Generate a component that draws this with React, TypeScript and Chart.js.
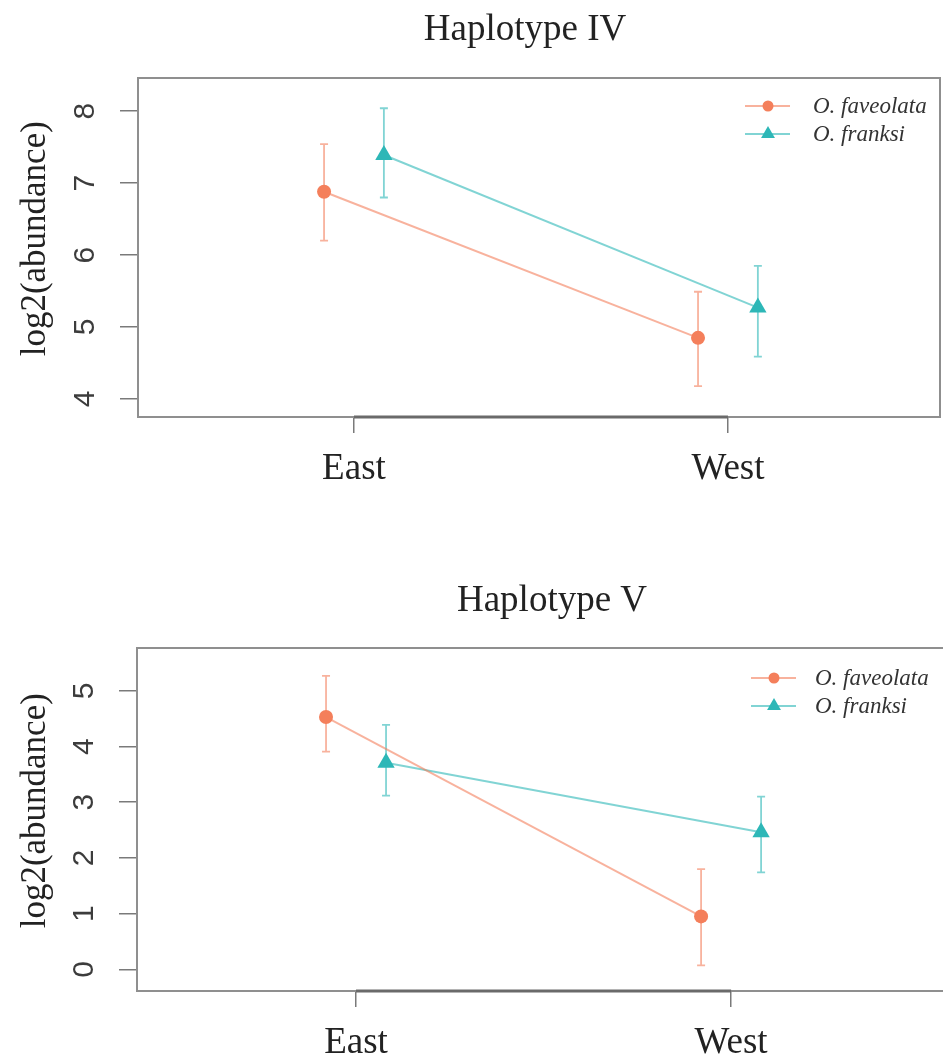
import React, { useEffect, useRef } from 'react';
import { Chart, registerables } from 'chart.js';

Chart.register(...registerables);

// ---------- data ----------
const categories = ['East', 'West'];
const seriesNames = ['O. faveolata', 'O. franksi'];
const dodge = [-0.08, 0.08];

const ivTitle = 'Haplotype IV';
const ivFavMean = [6.88, 4.85];
const ivFavLow = [6.2, 4.18];
const ivFavHigh = [7.54, 5.49];
const ivFraMean = [7.39, 5.27];
const ivFraLow = [6.8, 4.59];
const ivFraHigh = [8.04, 5.85];
const ivYTicks = [4, 5, 6, 7, 8];

const vTitle = 'Haplotype V';
const vFavMean = [4.53, 0.95];
const vFavLow = [3.91, 0.07];
const vFavHigh = [5.27, 1.8];
const vFraMean = [3.71, 2.46];
const vFraLow = [3.12, 1.74];
const vFraHigh = [4.39, 3.1];
const vYTicks = [0, 1, 2, 3, 4, 5];

const yLabel = 'log2(abundance)';

// ---------- styles ----------
const favPoint = '#F47F5B';
const favLine = 'rgba(244,127,91,0.6)';
const fraPoint = '#2DB7B7';
const fraLine = 'rgba(45,183,183,0.6)';
const SERIF = "'Liberation Serif', 'DejaVu Serif', serif";
const SANS = "'Liberation Sans', Arial, sans-serif";

function makePoints(means: number[], lows: number[], highs: number[], off: number) {
  return means.map((m, i) => ({ x: i + 1 + off, y: m, lo: lows[i], hi: highs[i] }));
}

const rPlot = {
  id: 'rPlot',
  beforeDatasetsDraw(chart: any) {
    const { ctx, chartArea: a, scales } = chart;
    const x = scales.x;
    const y = scales.y;
    ctx.save();
    // plot box
    ctx.strokeStyle = '#8f8f8f';
    ctx.lineWidth = 2;
    ctx.strokeRect(a.left, a.top, a.right - a.left, a.bottom - a.top);
    // R style x axis line spanning first to last tick
    const t = x.ticks;
    ctx.strokeStyle = '#6a6a6a';
    ctx.lineWidth = 3;
    ctx.beginPath();
    ctx.moveTo(x.getPixelForValue(t[0].value), a.bottom);
    ctx.lineTo(x.getPixelForValue(t[t.length - 1].value), a.bottom);
    ctx.stroke();
    // error bars
    chart.data.datasets.forEach((ds: any) => {
      ctx.strokeStyle = ds.borderColor;
      ctx.lineWidth = 1.8;
      ds.data.forEach((p: any) => {
        const px = x.getPixelForValue(p.x);
        const y1 = y.getPixelForValue(p.lo);
        const y2 = y.getPixelForValue(p.hi);
        ctx.beginPath();
        ctx.moveTo(px, y1);
        ctx.lineTo(px, y2);
        ctx.moveTo(px - 4, y1);
        ctx.lineTo(px + 4, y1);
        ctx.moveTo(px - 4, y2);
        ctx.lineTo(px + 4, y2);
        ctx.stroke();
      });
    });
    ctx.restore();
  },
  afterDraw(chart: any) {
    const { ctx, chartArea: a } = chart;
    const lg = chart.options.plugins.rPlot || {};
    ctx.save();
    chart.data.datasets.forEach((ds: any, i: number) => {
      const cy = a.top + (lg.top ?? 29) + i * 28;
      const mx = a.right - 172;
      ctx.strokeStyle = ds.borderColor;
      ctx.lineWidth = 2;
      ctx.beginPath();
      ctx.moveTo(mx - 23, cy);
      ctx.lineTo(mx + 22, cy);
      ctx.stroke();
      ctx.fillStyle = ds.pointBackgroundColor;
      ctx.beginPath();
      if (ds.pointStyle === 'triangle') {
        const r = 8;
        ctx.moveTo(mx, cy - r);
        ctx.lineTo(mx + r * 0.866, cy + r / 2);
        ctx.lineTo(mx - r * 0.866, cy + r / 2);
        ctx.closePath();
      } else {
        ctx.arc(mx, cy, 5.5, 0, Math.PI * 2);
      }
      ctx.fill();
      ctx.fillStyle = '#333';
      ctx.font = `italic 23px ${SERIF}`;
      ctx.textAlign = 'left';
      ctx.textBaseline = 'middle';
      ctx.fillText(ds.label, a.right - 127 + (lg.textShift ?? 0), cy + 1);
    });
    ctx.restore();
  },
};

type PanelProps = {
  title: string;
  fav: any[];
  fra: any[];
  yTicks: number[];
  yMin: number;
  yMax: number;
  xMin: number;
  xMax: number;
  width: number;
  height: number;
  top: number;
  padTop: number;
  rightWidth: number;
  padBottom: number;
  titlePadTop: number;
  titlePadBottom: number;
  axisWidth: number;
  legendTop: number;
  textShift: number;
};

function Panel(p: PanelProps) {
  const ref = useRef<HTMLCanvasElement | null>(null);
  useEffect(() => {
    if (!ref.current) return;
    const chart = new Chart(ref.current, {
      type: 'line',
      data: {
        datasets: [
          {
            label: seriesNames[0],
            data: p.fav,
            borderColor: favLine,
            borderWidth: 2,
            pointBackgroundColor: favPoint,
            pointBorderColor: favPoint,
            pointBorderWidth: 0,
            pointStyle: 'circle',
            pointRadius: 7,
          },
          {
            label: seriesNames[1],
            data: p.fra,
            borderColor: fraLine,
            borderWidth: 2,
            pointBackgroundColor: fraPoint,
            pointBorderColor: fraPoint,
            pointBorderWidth: 0,
            pointStyle: 'triangle',
            pointRadius: 10,
          },
        ],
      },
      options: {
        responsive: false,
        animation: false,
        events: [],
        layout: { padding: { top: p.padTop, left: 0, right: 0, bottom: p.padBottom } },
        plugins: {
          legend: { display: false },
          tooltip: { enabled: false },
          title: {
            display: true,
            text: p.title,
            color: '#222',
            font: { family: SERIF, size: 37, weight: 'normal' },
            padding: { top: p.titlePadTop, bottom: p.titlePadBottom },
          },
          // @ts-ignore
          rPlot: { top: p.legendTop, textShift: p.textShift },
        },
        scales: {
          x: {
            type: 'linear',
            min: p.xMin,
            max: p.xMax,
            border: { display: false },
            grid: { display: true, drawOnChartArea: false, drawTicks: true, tickLength: 16, color: '#7a7a7a', lineWidth: 1.5 },
            afterBuildTicks: (s: any) => {
              s.ticks = categories.map((_, i) => ({ value: i + 1 }));
            },
            ticks: {
              padding: 14,
              color: '#222',
              font: { family: SERIF, size: 37 },
              callback: (v: any) => categories[Number(v) - 1] ?? '',
            },
          },
          y: {
            type: 'linear',
            min: p.yMin,
            max: p.yMax,
            border: { display: false },
            grid: { display: true, drawOnChartArea: false, drawTicks: true, tickLength: 18, color: '#7a7a7a', lineWidth: 1.5 },
            afterBuildTicks: (s: any) => {
              s.ticks = p.yTicks.map((v) => ({ value: v }));
            },
            afterFit: (s: any) => {
              s.width = p.axisWidth;
            },
            ticks: {
              minRotation: 90,
              maxRotation: 90,
              crossAlign: 'center',
              padding: 26,
              color: '#3c3c3c',
              font: { family: SANS, size: 30 },
              callback: (v: any) => String(v),
            },
            title: {
              display: true,
              text: '  ' + yLabel,
              color: '#222',
              font: { family: SERIF, size: 35 },
              padding: { top: 15, bottom: 0 },
            },
          },
          yRight: {
            type: 'linear',
            position: 'right',
            display: true,
            border: { display: false },
            grid: { display: false },
            ticks: { display: false },
            afterFit: (s: any) => {
              s.width = p.rightWidth;
            },
          },
        },
      },
      plugins: [rPlot as any],
    } as any);
    return () => chart.destroy();
  }, []);
  return (
    <canvas
      ref={ref}
      width={p.width}
      height={p.height}
      style={{ position: 'absolute', left: 0, top: p.top, width: p.width, height: p.height }}
    />
  );
}

export default function App() {
  const ivFav = makePoints(ivFavMean, ivFavLow, ivFavHigh, dodge[0]);
  const ivFra = makePoints(ivFraMean, ivFraLow, ivFraHigh, dodge[1]);
  const vFav = makePoints(vFavMean, vFavLow, vFavHigh, dodge[0]);
  const vFra = makePoints(vFraMean, vFraLow, vFraHigh, dodge[1]);
  return (
    <div
      style={{
        position: 'absolute',
        left: 0,
        top: 0,
        width: 943,
        height: 1060,
        overflow: 'hidden',
        background: '#fff',
      }}
    >
      <Panel
        title={ivTitle}
        fav={ivFav}
        fra={ivFra}
        yTicks={ivYTicks}
        yMin={3.75}
        yMax={8.46}
        xMin={0.4225}
        xMax={2.567}
        width={1050}
        height={530}
        top={0}
        padTop={0}
        rightWidth={110}
        padBottom={24.6}
        titlePadTop={8}
        titlePadBottom={25.6}
        axisWidth={138}
        legendTop={28}
        textShift={0}
      />
      <Panel
        title={vTitle}
        fav={vFav}
        fra={vFra}
        yTicks={vYTicks}
        yMin={-0.39}
        yMax={5.77}
        xMin={0.416}
        xMax={2.573}
        width={1104}
        height={550}
        top={530}
        padTop={43}
        rightWidth={158}
        padBottom={0.6}
        titlePadTop={6}
        titlePadBottom={24.6}
        axisWidth={137}
        legendTop={30}
        textShift={-4}
      />
    </div>
  );
}
